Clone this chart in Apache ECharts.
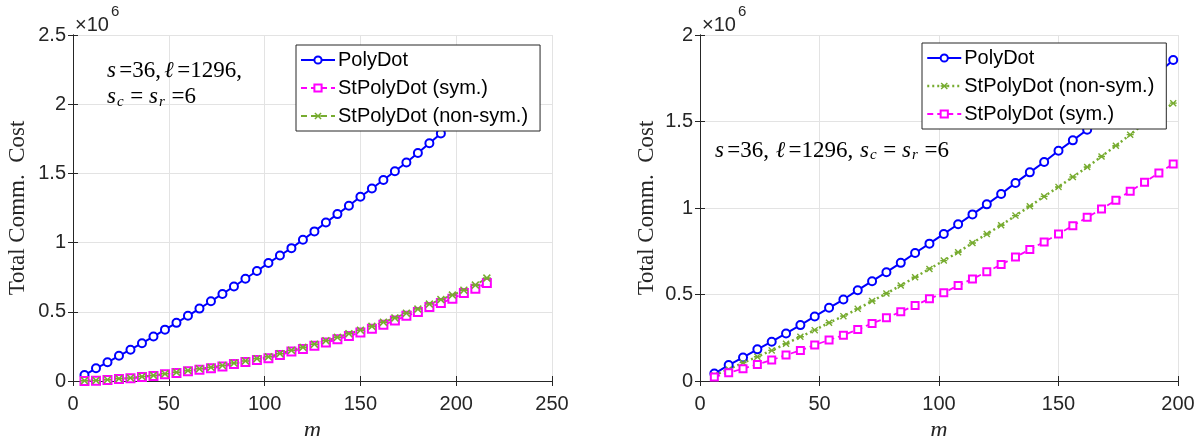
<!DOCTYPE html>
<html>
<head>
<meta charset="utf-8">
<title>Total Comm. Cost</title>
<script src="https://cdn.jsdelivr.net/npm/echarts@6/dist/echarts.min.js"></script>
<style>
  html, body { margin: 0; padding: 0; background: #fff; }
  #chart { width: 1199px; height: 436px; }
</style>
</head>
<body>
<div id="chart"></div>
<script>
// Values are in units of 10^6 (see the ×10^6 multiplier drawn above each y-axis).

// ---- left panel ----
const leftM = [6, 12, 18, 24, 30, 36, 42, 48, 54, 60, 66, 72, 78, 84, 90, 96, 102, 108,
  114, 120, 126, 132, 138, 144, 150, 156, 162, 168, 174, 180, 186, 192, 198, 204, 210, 216];
const leftPolyDot = [0.043, 0.092, 0.135, 0.182, 0.226, 0.273, 0.321, 0.371, 0.420, 0.471,
  0.523, 0.576, 0.629, 0.683, 0.739, 0.795, 0.852, 0.907, 0.960, 1.021, 1.081, 1.145, 1.206,
  1.266, 1.331, 1.391, 1.452, 1.515, 1.579, 1.648, 1.718, 1.789, 1.858, 1.930, 2.004, 2.080];
const leftSym = [0.000, 0.002, 0.007, 0.014, 0.019, 0.029, 0.036, 0.048, 0.058, 0.070, 0.082,
  0.092, 0.104, 0.123, 0.138, 0.152, 0.164, 0.188, 0.213, 0.232, 0.254, 0.278, 0.302, 0.326,
  0.350, 0.377, 0.406, 0.437, 0.471, 0.498, 0.534, 0.563, 0.595, 0.635, 0.667, 0.708];
const leftNonSym = [0.002, 0.004, 0.009, 0.017, 0.022, 0.032, 0.040, 0.052, 0.063, 0.075,
  0.088, 0.099, 0.112, 0.130, 0.145, 0.161, 0.175, 0.197, 0.222, 0.243, 0.266, 0.291, 0.316,
  0.342, 0.367, 0.395, 0.425, 0.456, 0.490, 0.520, 0.556, 0.588, 0.621, 0.656, 0.693, 0.744];

// ---- right panel ----
const rightM = [6, 12, 18, 24, 30, 36, 42, 48, 54, 60, 66, 72, 78, 84, 90, 96, 102, 108,
  114, 120, 126, 132, 138, 144, 150, 156, 162, 168, 174, 180, 186, 192, 198];
const rightPolyDot = [0.043, 0.092, 0.136, 0.183, 0.227, 0.275, 0.323, 0.373, 0.423, 0.471,
  0.525, 0.577, 0.629, 0.683, 0.740, 0.794, 0.850, 0.906, 0.963, 1.021, 1.081, 1.145, 1.206,
  1.266, 1.331, 1.391, 1.452, 1.515, 1.579, 1.645, 1.713, 1.783, 1.856];
const rightNonSym = [0.033, 0.067, 0.106, 0.140, 0.177, 0.215, 0.256, 0.294, 0.337, 0.375,
  0.417, 0.462, 0.506, 0.552, 0.600, 0.648, 0.696, 0.744, 0.798, 0.850, 0.900, 0.956, 1.010,
  1.067, 1.122, 1.179, 1.237, 1.298, 1.360, 1.424, 1.491, 1.548, 1.606];
const rightSym = [0.023, 0.048, 0.071, 0.096, 0.121, 0.150, 0.177, 0.208, 0.237, 0.265,
  0.298, 0.333, 0.365, 0.400, 0.437, 0.475, 0.510, 0.552, 0.590, 0.631, 0.673, 0.717, 0.760,
  0.804, 0.850, 0.898, 0.946, 0.994, 1.045, 1.097, 1.149, 1.203, 1.255];

const NAME_POLY = 'PolyDot';
const NAME_SYM = 'StPolyDot (sym.)';
const NAME_NONSYM = 'StPolyDot (non-sym.)';

const BLUE = '#0000ff';
const MAGENTA = '#ff00ff';
const GREEN = '#77ac30';
const INK = '#262626';

// asterisk-like marker (an "x" with a horizontal bar)
const STAR = 'path://M0,1.4 L1.4,0 L5,3.6 L8.6,0 L10,1.4 L6.4,5 L10,8.6 L8.6,10 L5,6.4 L1.4,10 L0,8.6 L3.6,5 Z M0,4 L10,4 L10,6 L0,6 Z';

const SANS = '"Liberation Sans", Arial, Helvetica, sans-serif';
const SERIF = '"Liberation Serif", "Times New Roman", serif';

const pairs = (xs, ys) => xs.map((x, i) => [x, ys[i]]);

function bottomAxis(gridIndex, max) {
  return {
    type: 'value', gridIndex, min: 0, max, interval: 50, position: 'bottom',
    name: 'm', nameLocation: 'middle', nameGap: 24,
    nameTextStyle: { fontFamily: SERIF, fontStyle: 'italic', fontSize: 24, color: INK },
    axisLine: { show: true, lineStyle: { color: INK, width: 1 } },
    axisTick: { show: true, inside: true, length: 5, lineStyle: { color: INK } },
    axisLabel: { fontFamily: SANS, fontSize: 20, color: INK, margin: 13 },
    splitLine: { show: true, lineStyle: { color: '#e3e3e3', width: 1 } }
  };
}
function topAxis(gridIndex, max) {
  return {
    type: 'value', gridIndex, min: 0, max, interval: 50, position: 'top',
    axisLine: { show: true, lineStyle: { color: INK, width: 1 } },
    axisTick: { show: true, inside: true, length: 5, lineStyle: { color: INK } },
    axisLabel: { show: false }, splitLine: { show: false }
  };
}
function leftAxis(gridIndex, max, gap) {
  return {
    type: 'value', gridIndex, min: 0, max, interval: 0.5, position: 'left',
    name: 'Total Comm.  Cost', nameLocation: 'middle', nameGap: gap,
    nameTextStyle: { fontFamily: SERIF, fontSize: 23, color: INK },
    axisLine: { show: true, lineStyle: { color: INK, width: 1 } },
    axisTick: { show: true, inside: true, length: 5, lineStyle: { color: INK } },
    axisLabel: { fontFamily: SANS, fontSize: 20, color: INK, margin: 7 },
    splitLine: { show: true, lineStyle: { color: '#e3e3e3', width: 1 } }
  };
}
function rightAxis(gridIndex, max) {
  return {
    type: 'value', gridIndex, min: 0, max, interval: 0.5, position: 'right',
    axisLine: { show: true, lineStyle: { color: INK, width: 1 } },
    axisTick: { show: true, inside: true, length: 5, lineStyle: { color: INK } },
    axisLabel: { show: false }, splitLine: { show: false }
  };
}

function lineSeries(name, xi, yi, data, color, symbol, size, dash, width) {
  return {
    name, type: 'line', xAxisIndex: xi, yAxisIndex: yi, data,
    symbol, symbolSize: size, showSymbol: true,
    lineStyle: { color, width, type: dash },
    itemStyle: symbol === STAR
      ? { color, borderWidth: 0 }
      : { color, borderColor: color, borderWidth: 1.8 },
    emphasis: { disabled: true },
    animation: false, z: 2
  };
}

function legend(left, top, names, styles) {
  return {
    left, top, orient: 'vertical',
    backgroundColor: '#fff', borderColor: INK, borderWidth: 1, borderRadius: 0,
    padding: [5, 12, 5, 4], itemGap: 8, itemWidth: 34, itemHeight: 9,
    textStyle: { fontFamily: SANS, fontSize: 20, color: '#000', padding: [0, 0, 0, -2] },
    selectedMode: false,
    data: names.map((n, i) => Object.assign({ name: n }, styles[i])),
    z: 10
  };
}

const mathRich = {
  t: { fontFamily: SERIF, fontSize: 23, color: '#000' },
  i: { fontFamily: SERIF, fontSize: 23, fontStyle: 'italic', color: '#000' },
  s: { fontFamily: SERIF, fontSize: 15, fontStyle: 'italic', color: '#000', padding: [10, 1, 0, 1] }
};
const mult = { fontFamily: SANS, fontSize: 20, fill: INK };

const chart = echarts.init(document.getElementById('chart'), null, { renderer: 'canvas' });
chart.setOption({
  backgroundColor: '#fff',
  animation: false,
  grid: [
    { left: 73, right: 647, top: 35, bottom: 55, containLabel: false, outerBoundsMode: 'none' },
    { left: 700, right: 21, top: 35, bottom: 55, containLabel: false, outerBoundsMode: 'none' }
  ],
  xAxis: [bottomAxis(0, 250), topAxis(0, 250), bottomAxis(1, 200), topAxis(1, 200)],
  yAxis: [leftAxis(0, 2.5, 44), rightAxis(0, 2.5), leftAxis(1, 2, 42), rightAxis(1, 2)],
  legend: [
    legend(296, 45, [NAME_POLY, NAME_SYM, NAME_NONSYM], [
      { lineStyle: { type: 'solid', width: 2 } },
      { lineStyle: { type: [6, 4], width: 2 } },
      { lineStyle: { type: [6, 4], width: 2 } }
    ]),
    legend(922, 43, [NAME_POLY, NAME_NONSYM, NAME_SYM], [
      { lineStyle: { type: 'solid', width: 2 } },
      { lineStyle: { type: [2, 3], width: 2.5 } },
      { lineStyle: { type: [6, 4], width: 2 } }
    ])
  ],
  series: [
    lineSeries(NAME_POLY, 0, 0, pairs(leftM, leftPolyDot), BLUE, 'emptyCircle', 8, 'solid', 2),
    lineSeries(NAME_SYM, 0, 0, pairs(leftM, leftSym), MAGENTA, 'emptyRect', 8, [6, 4], 2),
    lineSeries(NAME_NONSYM, 0, 0, pairs(leftM, leftNonSym), GREEN, STAR, 8, [6, 4], 2),
    lineSeries(NAME_POLY, 2, 2, pairs(rightM, rightPolyDot), BLUE, 'emptyCircle', 8, 'solid', 2),
    lineSeries(NAME_NONSYM, 2, 2, pairs(rightM, rightNonSym), GREEN, STAR, 7, [2, 3], 2.5),
    lineSeries(NAME_SYM, 2, 2, pairs(rightM, rightSym), MAGENTA, 'emptyRect', 7, [6, 4], 1.8)
  ],
  graphic: [
    // ×10^6 multipliers
    { type: 'text', left: 75, top: 15, style: Object.assign({ text: '×10' }, mult) },
    { type: 'text', left: 111, top: 4, style: { text: '6', fontFamily: SANS, fontSize: 15, fill: INK } },
    { type: 'text', left: 702, top: 15, style: Object.assign({ text: '×10' }, mult) },
    { type: 'text', left: 738, top: 4, style: { text: '6', fontFamily: SANS, fontSize: 15, fill: INK } },
    // parameter annotations
    {
      type: 'text', left: 107, top: 58, z: 5,
      style: {
        text: '{i|s} {t|=36,} {i|ℓ} {t|=1296,}\n{i|s}{s|c}{t| = }{i|s}{s|r}{t| =6}',
        rich: mathRich, lineHeight: 26
      }
    },
    {
      type: 'text', left: 715, top: 139, z: 5,
      style: {
        text: '{i|s} {t|=36,}  {i|ℓ} {t|=1296,}  {i|s}{s|c}{t| = }{i|s}{s|r}{t| =6}',
        rich: mathRich
      }
    }
  ]
});
</script>
</body>
</html>
